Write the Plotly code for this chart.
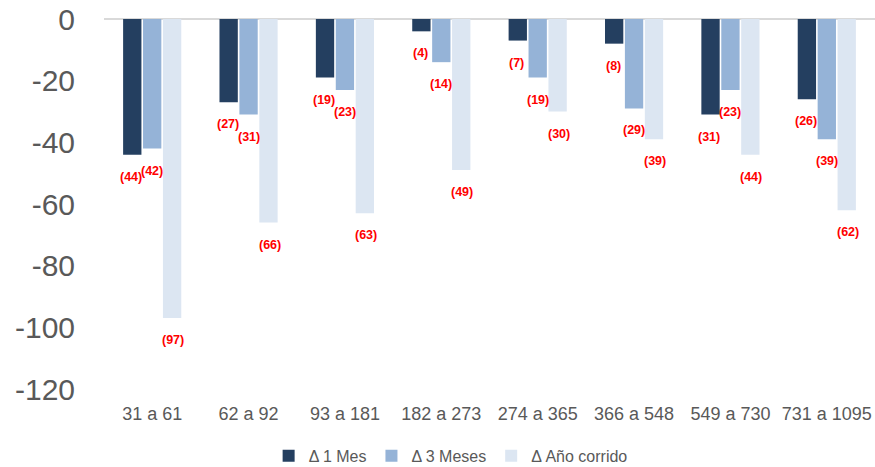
import plotly.graph_objects as go

categories = ["31 a 61", "62 a 92", "93 a 181", "182 a 273", "274 a 365", "366 a 548", "549 a 730", "731 a 1095"]
mes1 = [-44, -27, -19, -4, -7, -8, -31, -26]
mes3 = [-42, -31, -23, -14, -19, -29, -23, -39]
anio = [-97, -66, -63, -49, -30, -39, -44, -62]
series_names = ["Δ 1 Mes", "Δ 3 Meses", "Δ Año corrido"]
colors = ["#243F60", "#95B3D7", "#DCE6F2"]
ytick_vals = [0, -20, -40, -60, -80, -100, -120]
ytick_text = ["0", "-20", "-40", "-60", "-80", "-100", "-120"]

fig = go.Figure()
all_series = [mes1, mes3, anio]
for name, vals, col in zip(series_names, all_series, colors):
    fig.add_trace(go.Bar(x=categories, y=vals, name=name, marker_color=col,
                         marker_line_width=0))

annotations = []
shifts = [-21, 0, 21]
for vals, xs in zip(all_series, shifts):
    for c, v in zip(categories, vals):
        annotations.append(dict(x=c, y=v, xref="x", yref="y", text=f"<b>({abs(v)})</b>",
                                showarrow=False, xshift=xs, yshift=-22,
                                font=dict(family="Liberation Sans, Arial", size=12.5, color="#FF0000"),
                                yanchor="middle", xanchor="center"))

fig.update_layout(
    width=875, height=467,
    margin=dict(l=104, r=0, t=19, b=78, autoexpand=False),
    barmode="group", bargap=0.38, bargroupgap=0.08,
    plot_bgcolor="white", paper_bgcolor="white",
    font=dict(family="Liberation Sans, Arial", color="#595959"),
    annotations=annotations,
    showlegend=True,
    legend=dict(orientation="h", xref="container", x=0.515, xanchor="center",
                yref="container", y=0.024, yanchor="middle",
                font=dict(size=16, color="#595959"), itemwidth=30, traceorder="normal",
                tracegroupgap=0, itemsizing="constant"),
)
fig.update_yaxes(range=[-120, 0], tickvals=ytick_vals, ticktext=ytick_text,
                 showgrid=False, zeroline=True, automargin=False,
                 zerolinecolor="#D9D9D9", zerolinewidth=1.5,
                 tickfont=dict(size=30, color="#595959"), ticklabelstandoff=28,
                 showline=False)
fig.update_xaxes(showgrid=False, showline=False, automargin=False,
                 tickfont=dict(size=18, color="#595959"), ticklabelstandoff=12)

fig.write_html("out.html")
